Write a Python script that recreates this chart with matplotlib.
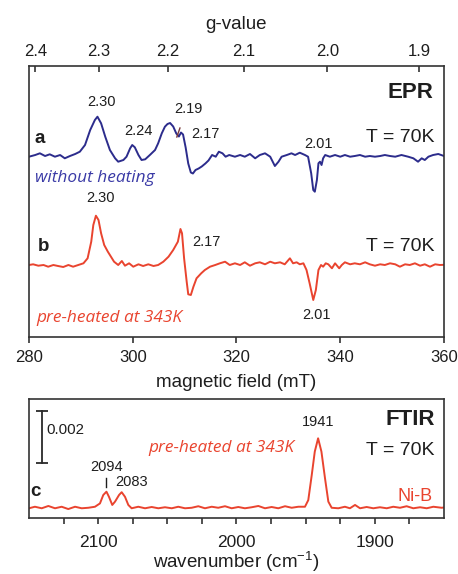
import matplotlib
matplotlib.use("Agg")
import matplotlib.pyplot as plt

plt.rcParams["font.family"] = ["Liberation Sans", "DejaVu Sans"]
plt.rcParams["mathtext.default"] = "regular"

# h*nu/mu_B in mT for the X-band spectrometer frequency: g = HNU_MUB / B
HNU_MUB = 675.0

# ---- EPR spectrum a (without heating), first-derivative, arbitrary units
epr_a_field = [
    280.0, 281.2, 282.1, 283.1, 284.0, 285.0, 286.0, 286.9, 287.9, 288.9,
    289.8, 290.8, 291.8, 292.7, 293.2, 293.9, 294.7, 295.6, 296.6, 297.2,
    298.2, 298.8, 299.5, 299.9, 300.4, 301.1, 301.7, 302.4, 303.3, 304.3,
    304.9, 305.6, 306.2, 306.7, 307.2, 307.8, 308.4, 308.9, 309.3, 309.7,
    310.2, 310.7, 311.2, 311.6, 312.1, 312.7, 313.3, 314.0, 314.6, 315.3,
    316.0, 316.6, 317.3, 317.9, 318.6, 319.7, 320.7, 321.6, 322.6, 323.6,
    324.5, 325.5, 326.5, 327.4, 328.1, 328.7, 329.7, 330.6, 331.3, 332.2,
    333.2, 333.8, 334.4, 334.8, 335.1, 335.5, 335.8, 336.1, 336.4, 336.7,
    337.1, 338.0, 339.0, 340.0, 340.9, 341.9, 342.8, 343.8, 344.8, 345.7,
    346.7, 347.7, 348.6, 349.6, 350.6, 351.8, 353.1, 354.1, 355.0, 355.7,
    356.3, 357.0, 357.9, 358.9, 360.0,
]
epr_a_signal = [
    -0.12, 0.05, 0.22, -0.05, 0.12, -0.12, 0.05, -0.28, -0.05, 0.15,
    0.38, 1.05, 2.55, 3.55, 3.88, 3.22, 1.88, 0.55, -0.28, -0.62,
    -0.45, -0.12, 0.72, 1.05, 0.82, 0.05, -0.45, -0.38, 0.05, 0.55,
    1.22, 2.22, 2.88, 3.15, 3.25, 2.90, 2.20, 1.90, 2.30, 2.10,
    0.80, -0.80, -1.70, -1.80, -1.45, -1.30, -1.10, -0.80, -0.50, 0.05,
    -0.12, 0.38, 0.22, -0.12, 0.05, -0.12, 0.05, -0.12, 0.15, -0.28,
    0.05, 0.22, -0.12, -1.05, -0.62, -0.12, 0.05, 0.22, 0.05, 0.28,
    0.05, -0.12, -1.78, -3.45, -3.62, -2.45, -0.78, -0.62, -0.95, -0.28,
    0.05, -0.12, 0.05, -0.12, 0.05, -0.12, -0.05, 0.05, -0.12, -0.05,
    -0.12, -0.05, 0.05, -0.05, -0.12, 0.05, -0.12, -0.28, -0.62, -0.28,
    -0.45, -0.12, 0.05, 0.15, -0.05,
]

# ---- EPR spectrum b (pre-heated at 343 K)
epr_b_field = [
    280.0, 280.8, 281.8, 282.8, 283.7, 284.7, 285.6, 286.6, 287.6, 288.5,
    289.5, 290.5, 291.3, 292.0, 292.4, 292.9, 293.4, 293.9, 294.5, 295.2,
    295.8, 296.4, 297.2, 297.9, 298.5, 299.3, 300.1, 301.1, 302.0, 303.0,
    304.0, 304.9, 305.9, 306.9, 307.8, 308.7, 309.2, 309.5, 309.9, 310.4,
    310.7, 311.2, 311.7, 312.3, 313.2, 313.9, 314.9, 315.9, 316.8, 317.8,
    318.7, 319.7, 320.7, 321.6, 322.6, 323.6, 324.5, 325.5, 326.5, 327.4,
    328.4, 329.3, 330.3, 330.9, 331.6, 332.2, 332.9, 333.5, 334.1, 334.8,
    335.3, 335.8, 336.3, 336.7, 337.2, 337.7, 338.4, 339.0, 339.8, 340.3,
    340.9, 341.9, 342.8, 343.8, 344.8, 345.7, 346.7, 347.7, 348.6, 349.6,
    350.6, 351.5, 352.5, 353.4, 354.4, 355.4, 356.3, 357.3, 358.3, 359.2,
    360.0,
]
epr_b_signal = [
    -0.02, 0.05, -0.09, -0.02, -0.19, -0.02, -0.12, -0.22, -0.02, -0.19,
    -0.02, 0.15, 0.65, 2.31, 3.98, 4.91, 4.48, 3.15, 1.98, 1.31,
    0.81, 0.31, -0.02, 0.38, -0.09, 0.15, -0.19, 0.05, -0.12, 0.05,
    -0.12, -0.02, 0.31, 0.81, 1.48, 2.31, 3.58, 3.15, 0.65, -1.69,
    -2.95, -3.02, -2.19, -1.35, -0.85, -0.52, -0.19, -0.02, 0.15, 0.31,
    -0.02, 0.15, -0.02, 0.25, -0.09, 0.15, 0.25, 0.05, 0.31, 0.15,
    0.25, 0.05, 0.65, 0.15, 0.25, 0.05, 0.15, -0.52, -1.85, -3.52,
    -2.52, -0.52, -0.02, -0.19, 0.15, 0.05, -0.35, 0.15, -0.35, -0.02,
    0.25, 0.05, 0.15, 0.05, 0.25, 0.05, -0.09, 0.05, -0.02, 0.15,
    0.05, -0.19, 0.05, -0.02, 0.15, -0.09, 0.05, -0.19, 0.05, -0.02,
    0.00,
]
offset_a = 18.15
offset_b = 7.22

field_ticks = [280, 300, 320, 340, 360]
g_ticks = [2.4, 2.3, 2.2, 2.1, 2.0, 1.9]

# ---- FTIR spectrum c (absorbance in units of 1e-3)
ftir_wavenumber = [
    2150.0, 2145.7, 2140.8, 2136.0, 2131.2, 2126.4, 2121.6, 2116.7, 2111.9, 2107.1,
    2102.3, 2098.7, 2096.3, 2094.0, 2092.2, 2089.8, 2087.8, 2084.9, 2083.0, 2080.6,
    2078.2, 2075.8, 2071.0, 2066.1, 2061.3, 2056.5, 2051.7, 2046.8, 2042.1, 2037.2,
    2032.4, 2027.6, 2022.8, 2017.9, 2013.2, 2008.3, 2003.5, 1998.7, 1993.9, 1989.0,
    1984.2, 1979.4, 1974.6, 1969.8, 1964.9, 1960.1, 1955.3, 1950.5, 1948.1, 1945.6,
    1943.4, 1941.0, 1938.6, 1936.0, 1933.6, 1931.2, 1926.4, 1921.6, 1918.0, 1914.3,
    1910.7, 1905.9, 1901.1, 1896.3, 1891.4, 1886.7, 1881.8, 1877.0, 1872.2, 1867.3,
    1862.5, 1857.7, 1851.7, 1850.0,
]
ftir_absorbance_milli = [
    -0.01, 0.05, -0.01, 0.08, -0.01, 0.05, -0.04, 0.05, -0.01, 0.01,
    0.05, 0.18, 0.51, 0.64, 0.44, 0.12, 0.25, 0.51, 0.62, 0.44,
    0.12, -0.01, 0.05, -0.01, 0.04, -0.01, 0.03, -0.01, 0.05, -0.01,
    0.01, 0.07, -0.01, 0.05, 0.01, 0.07, -0.01, 0.04, -0.01, 0.03,
    0.08, -0.01, 0.04, -0.01, 0.07, 0.01, 0.05, 0.05, 0.31, 1.29,
    2.21, 2.73, 2.21, 1.16, 0.25, 0.01, -0.01, 0.05, -0.01, 0.12,
    -0.01, 0.04, -0.01, 0.03, -0.01, 0.05, 0.01, 0.07, -0.01, 0.03,
    -0.01, 0.05, 0.01, 0.02,
]
wavenumber_major = [2100, 2000, 1900]
wavenumber_minor = [2125, 2075, 2050, 2025, 1975, 1950, 1925, 1875]
scale_bar = 0.002

BLUE = "#2c2c8c"
BLUE_TEXT = "#3a3aa6"
RED = "#e9442f"
INK = "#1e1e1e"
FRAME = "#333333"

fig = plt.figure(figsize=(4.58, 5.74), dpi=100)
ax = fig.add_axes([0.0633, 0.4129, 0.9061, 0.4721])
axf = fig.add_axes([0.0633, 0.0976, 0.9061, 0.2073])

for a in (ax, axf):
    for s in a.spines.values():
        s.set_color(FRAME)
        s.set_linewidth(1.2)
    a.set_yticks([])

# ---------------- EPR panel ----------------
ax.plot(epr_a_field, [v + offset_a for v in epr_a_signal], color=BLUE, lw=1.4)
ax.plot(epr_b_field, [v + offset_b for v in epr_b_signal], color=RED, lw=1.4)
ax.set_xlim(280, 360)
ax.set_ylim(0, 27.1)
ax.set_xticks(field_ticks)
ax.tick_params(axis="x", direction="out", length=4.5, width=1.2, color=FRAME,
               labelsize=12, pad=5, labelcolor=INK)
ax.set_xlabel("magnetic field (mT)", fontsize=13.5, color=INK, labelpad=6)

top = ax.twiny()
top.set_xlim(ax.get_xlim())
top.set_xticks([HNU_MUB / g for g in g_ticks])
top.set_xticklabels([f"{g:.1f}" for g in g_ticks])
top.tick_params(axis="x", direction="in", length=4.5, width=1.2, color=FRAME,
                labelsize=12, pad=5, labelcolor=INK)
top.set_xlabel("g-value", fontsize=13.5, color=INK, labelpad=10.5)
for s in top.spines.values():
    s.set_visible(False)

ax.text(357.9, 24.5, "EPR", fontsize=16, fontweight="bold", ha="right", va="center", color=INK)
ax.text(358.1, 20.0, "T = 70K", fontsize=14, ha="right", va="center", color=INK)
ax.text(358.1, 9.03, "T = 70K", fontsize=14, ha="right", va="center", color=INK)
ax.text(282.1, 19.9, "a", fontsize=13.5, fontweight="bold", ha="center", va="center", color=INK)
ax.text(282.8, 9.03, "b", fontsize=13.5, fontweight="bold", ha="center", va="center", color=INK)

ann = dict(fontsize=10.5, color=INK, va="center")
ax.text(294.0, 23.5, "2.30", ha="center", **ann)
ax.text(301.1, 20.6, "2.24", ha="center", **ann)
ax.text(310.7, 22.8, "2.19", ha="center", **ann)
ax.plot([308.5, 309.1], [20.0, 20.9], color="#7a3a3a", lw=1.0)
ax.text(311.2, 20.3, "2.17", ha="left", **ann)
ax.text(335.8, 19.3, "2.01", ha="center", **ann)
ax.text(293.7, 13.9, "2.30", ha="center", **ann)
ax.text(311.4, 9.5, "2.17", ha="left", **ann)
ax.text(335.5, 2.2, "2.01", ha="center", **ann)

ax.text(281.2, 15.9, "without heating", fontsize=12.4, style="italic", family="Open Sans",
        color=BLUE_TEXT, ha="left", va="center")
ax.text(281.5, 1.87, "pre-heated at 343K", fontsize=12.4, style="italic", family="Open Sans",
        color=RED, ha="left", va="center")

# ---------------- FTIR panel ----------------
absorbance = [v * 1e-3 for v in ftir_absorbance_milli]
axf.plot(ftir_wavenumber, absorbance, color=RED, lw=1.4)
axf.set_xlim(2150, 1850)
axf.set_ylim(-0.39e-3, 4.27e-3)
axf.set_xticks(wavenumber_major)
axf.set_xticks(wavenumber_minor, minor=True)
axf.tick_params(axis="x", which="both", direction="out", length=4.5, width=1.2,
                color=FRAME, labelsize=12.5, pad=8, labelcolor=INK)
axf.set_xlabel("wavenumber (cm$^{-1}$)", fontsize=13.5, color=INK, labelpad=0)

bar_x = 2140.8
bar_lo = 1.78e-3
axf.plot([bar_x, bar_x], [bar_lo, bar_lo + scale_bar], color="#2a2a2a", lw=1.3,
         marker="_", markersize=8, mew=1.3)
axf.text(2137.2, 3.06e-3, f"{scale_bar}", fontsize=10.8, color=INK, ha="left", va="center")

axf.text(1856.5, 3.45e-3, "FTIR", fontsize=16, fontweight="bold", ha="right", va="center", color=INK)
axf.text(1856.5, 2.27e-3, "T = 70K", fontsize=14, ha="right", va="center", color=INK)
axf.text(1941, 3.38e-3, "1941", fontsize=10.5, ha="center", va="center", color=INK)
axf.text(2063.8, 2.34e-3, "pre-heated at 343K", fontsize=12.4, style="italic", family="Open Sans",
         color=RED, ha="left", va="center")
axf.text(2145.7, 0.64e-3, "c", fontsize=13.5, fontweight="bold", ha="center", va="center", color=INK)
axf.text(1858, 0.47e-3, "Ni-B", fontsize=13, ha="right", va="center", color=RED)
axf.text(2094, 1.62e-3, "2094", fontsize=10.5, ha="center", va="center", color=INK)
axf.plot([2094, 2094], [0.82e-3, 1.18e-3], color=INK, lw=1.0)
axf.text(2087.8, 1.02e-3, "2083", fontsize=10.5, ha="left", va="center", color=INK)

fig.savefig("out.png", dpi=100, facecolor="white")
